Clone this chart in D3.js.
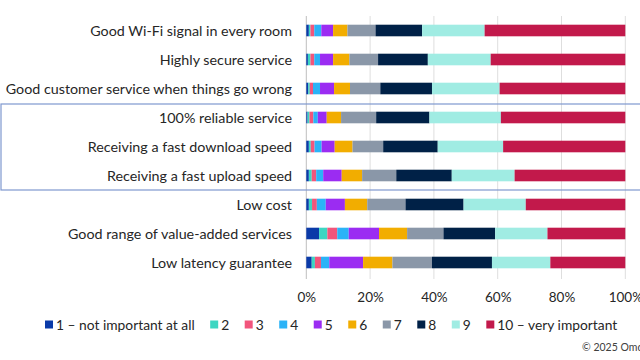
<!DOCTYPE html>
<html><head><meta charset="utf-8">
<script src="https://cdn.jsdelivr.net/npm/d3@7"></script>
<style>body{margin:0;background:#fff}svg{display:block}</style>
</head><body>
<svg id="c" width="640" height="360"></svg>
<script>
const categories = [
  "Good Wi-Fi signal in every room",
  "Highly secure service",
  "Good customer service when things go wrong",
  "100% reliable service",
  "Receiving a fast download speed",
  "Receiving a fast upload speed",
  "Low cost",
  "Good range of value-added services",
  "Low latency guarantee"
];
const seriesNames = ["1 – not important at all","2","3","4","5","6","7","8","9","10 – very important"];
const colors = ["#0a3aa8","#3dd6c2","#f2557c","#2bb3f7","#9b2cf2","#f2ad00","#8a97a8","#002147","#a0ece3","#c2194b"];
// rows: values for scores 1..10 (percent)
const s1  = [0.8, 0.5, 0.6, 0.4, 0.8, 0.8, 0.8, 4.0, 1.7];
const s2  = [0.5, 0.8, 0.5, 0.6, 0.6, 0.9, 1.0, 2.6, 1.0];
const s3  = [1.2, 1.2, 1.0, 1.2, 1.2, 1.4, 1.5, 3.1, 1.9];
const s4  = [2.2, 1.8, 2.2, 1.4, 2.2, 2.2, 2.8, 3.6, 2.6];
const s5  = [3.7, 4.1, 4.4, 2.8, 4.1, 5.8, 6.0, 9.5, 10.6];
const s6  = [4.5, 5.1, 5.0, 4.5, 5.6, 6.4, 7.0, 8.8, 9.2];
const s7  = [8.8, 9.0, 9.5, 11.0, 9.6, 10.7, 12.0, 11.4, 12.4];
const s8  = [14.6, 15.6, 16.2, 16.7, 17.1, 17.4, 18.2, 16.2, 18.8];
const s9  = [19.6, 19.7, 21.2, 22.4, 20.5, 19.7, 19.5, 16.4, 18.3];
const s10 = [44.1, 42.2, 39.4, 39.0, 38.3, 34.7, 31.2, 24.4, 23.5];
const tickValues = [0, 0.2, 0.4, 0.6, 0.8, 1.0];
const copyright = "© 2025 Omdia";

const series = [s1,s2,s3,s4,s5,s6,s7,s8,s9,s10];
const keys = seriesNames.map((d,i)=>"k"+i);
const table = categories.map((c,ci)=>{
  const o = {cat:c};
  let tot = 0; series.forEach(s=>tot+=s[ci]);
  series.forEach((s,si)=>o[keys[si]] = s[ci]/tot);
  return o;
});
const stack = d3.stack().keys(keys)(table);

const svg = d3.select("#c");
const font = "Lato, 'Open Sans', sans-serif";
const x = d3.scaleLinear().domain([0,1]).range([306.3,625.3]);
const y = d3.scaleBand().domain(categories).range([16,277]).paddingInner(0.6).paddingOuter(0.3);

// gridlines
svg.append("g").selectAll("line").data(tickValues).join("line")
  .attr("x1",d=>x(d)).attr("x2",d=>x(d)).attr("y1",16).attr("y2",279)
  .attr("stroke",d=>d===0?"#bfbfbf":"#dedede").attr("stroke-width",1);

// highlight box
svg.append("rect").attr("x",1).attr("y",104).attr("width",645).attr("height",86)
  .attr("fill","none").attr("stroke","#7f98cf").attr("stroke-width",1.2);

// bars
svg.append("g").selectAll("g").data(stack).join("g")
  .attr("fill",(d,i)=>colors[i])
  .selectAll("rect").data(d=>d).join("rect")
  .attr("x",d=>x(d[0])).attr("width",d=>x(d[1])-x(d[0]))
  .attr("y",d=>y(d.data.cat)).attr("height",y.bandwidth());

// category labels
svg.append("g").selectAll("text").data(categories).join("text")
  .attr("x",292).attr("y",d=>y(d)+y.bandwidth()/2).attr("dy","0.35em")
  .attr("text-anchor","end").attr("font-family",font).attr("font-size",14.3)
  .attr("fill","#262626").text(d=>d);

// x axis labels
const ax = svg.append("g").attr("transform","translate(0,289)")
  .call(d3.axisBottom(x).tickValues(tickValues).tickFormat(d3.format(".0%")).tickSize(0));
ax.select(".domain").remove();
ax.selectAll("text").attr("font-family",font).attr("font-size",13.5).attr("fill","#262626");

// legend
const lg = svg.append("g").attr("transform","translate(45,325)");
let lx = 0;
seriesNames.forEach((n,i)=>{
  const g = lg.append("g").attr("transform",`translate(${lx},0)`);
  g.append("rect").attr("x",0).attr("y",-4.5).attr("width",8).attr("height",8).attr("fill",colors[i]);
  const t = g.append("text").attr("x",11).attr("y",0).attr("dy","0.35em")
    .attr("font-family",font).attr("font-size",13.8).attr("fill","#262626").text(n);
  lx += 11 + t.node().getComputedTextLength() + 15.5;
});

svg.append("text").attr("x",582).attr("y",347).attr("dy","0.35em")
  .attr("font-family",font).attr("font-size",10.5).attr("fill","#404040").text(copyright);
</script>
</body></html>
